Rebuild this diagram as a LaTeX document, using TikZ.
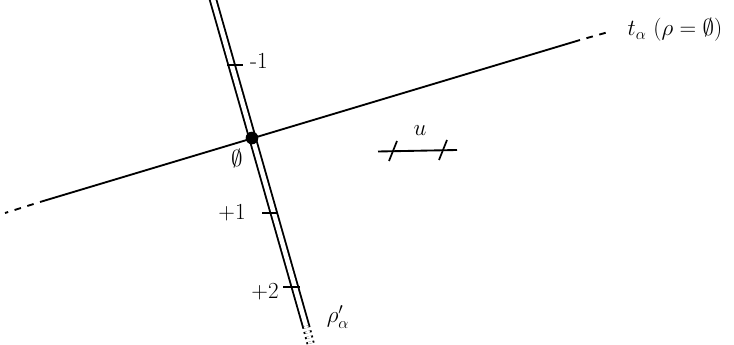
\documentclass[tikz,border=0pt]{standalone}
\usepackage{amssymb,amsmath}
\usepackage{tikz}
\tikzset{
  rhoaxis/.style={line width=1.4pt, double, double distance=3.4pt},
  trace/.style={line width=1.4pt},
  tickmark/.style={line width=1.3pt},
  gapdash/.style={line width=1.4pt, dash pattern=on 5pt off 5pt, dash phase=5pt},
  dotpt/.style={circle, fill=black, minimum size=9.5pt, inner sep=0pt},
  lbl/.style={font=\LARGE, inner sep=1pt}
}

\begin{document}
\begin{tikzpicture}[x=0.75pt, y={(0pt,-0.75pt)}]
		\useasboundingbox (0,0) rectangle (734,345);
		% 直线 rho'_alpha 与 t_alpha 的端点
		\coordinate (Top) at (212,-4);
		\coordinate (Bot) at (306,326);
		\coordinate (End) at (311,345);
		\coordinate (L) at (40,202);
		\coordinate (Lend) at (5,213);
		\coordinate (R) at (580,40);
		\coordinate (Rend) at (612,31);
		% 绘制直线
		\draw[rhoaxis] (Top) -- (Bot);
		\draw[rhoaxis, dash pattern=on 1.5pt off 2.5pt] (Bot) -- (End);
		\draw[trace] (L) -- (R);
		\draw[gapdash] (L) -- (Lend);
		\draw[gapdash] (R) -- (Rend);
		\node[dotpt] (O) at (252,138) {};
		% 刻度
		\coordinate (T1) at (231,65);
		\coordinate (T2) at (274,213);
		\coordinate (T3) at (295,287);
		\foreach \c/\a/\b in {T1/-4/12, T2/-12/4, T3/-12/5}
			\draw[tickmark] ([shift={(\a,0)}]\c) -- ([shift={(\b,0)}]\c);
		\node[lbl] (m1) at (259,61) {-1};
		\node[lbl] (zero) at (237,159) {$\emptyset$};
		\node[lbl] (p1) at (232,213) {+1};
		\node[lbl] (p2) at (265,292) {+2};
		\node[lbl] (rho) at (338,317) {$\rho'_\alpha$};
		\node[lbl, anchor=base west] (tl) at (626,36) {$t_\alpha$\ ($\rho = \emptyset$)};
		% 单位长度 u
		\coordinate (U1) at (378,151.5);
		\coordinate (U2) at (457,150);
		\coordinate (Ua) at (393,151);
		\coordinate (Ub) at (443,150);
		\draw[trace] (U1) -- (U2);
		\foreach \c in {Ua,Ub}
			\draw[tickmark] ([shift={(4,-10)}]\c) -- ([shift={(-4,10)}]\c);
		\node[lbl] (lu) at (420,131) {$u$};
	\end{tikzpicture}
\end{document}
